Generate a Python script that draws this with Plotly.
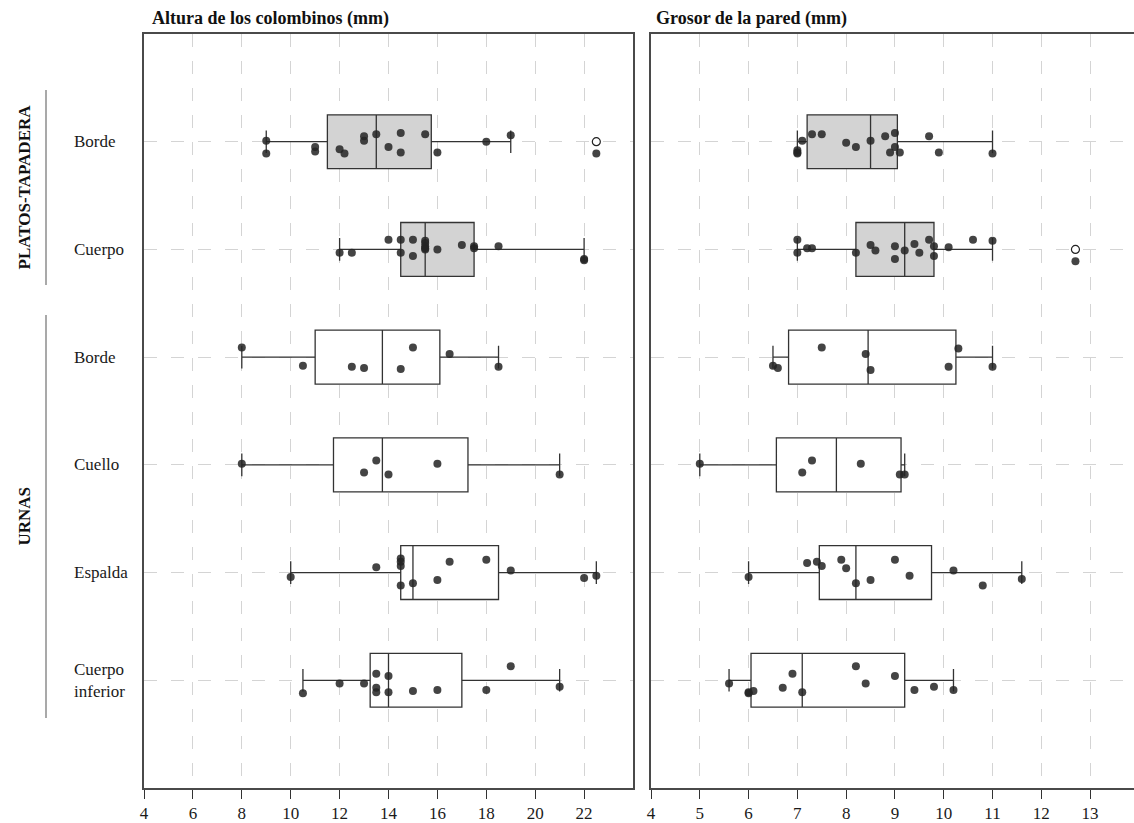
import plotly.graph_objects as go

# --- categories (top to bottom) -------------------------------------------
categories = ["Borde", "Cuerpo", "Borde", "Cuello", "Espalda", "Cuerpo<br>inferior"]
shaded_rows = [0, 1]          # PLATOS-TAPADERA rows get a grey fill
group_names = ["PLATOS-TAPADERA", "URNAS"]

# --- Altura de los colombinos (mm) ------------------------------------------
altura_values = [
    [9.0, 9.0, 11.0, 11.0, 12.0, 12.2, 13.0, 13.0, 13.5, 14.0, 14.5, 14.5, 15.5, 16.0, 18.0, 19.0, 22.5],
    [12.0, 12.5, 14.0, 14.5, 14.5, 15.0, 15.0, 15.5, 15.5, 15.5, 15.5, 15.5, 16.0, 17.0, 17.5, 17.5, 18.5, 22.0, 22.0],
    [8.0, 10.5, 12.5, 13.0, 14.5, 15.0, 16.5, 18.5],
    [8.0, 13.0, 13.5, 14.0, 16.0, 21.0],
    [10.0, 13.5, 14.5, 14.5, 14.5, 14.5, 15.0, 16.0, 16.5, 18.0, 19.0, 22.0, 22.5],
    [10.5, 12.0, 13.0, 13.5, 13.5, 13.5, 14.0, 14.0, 15.0, 16.0, 18.0, 19.0, 21.0],
]
altura_jitter = [
    [-0.01, 0.11, 0.05, 0.09, 0.07, 0.11, -0.05, -0.01, -0.07, 0.05, -0.08, 0.10, -0.07, 0.10, 0.00, -0.06, 0.11],
    [0.03, 0.03, -0.09, -0.09, 0.03, -0.09, 0.06, -0.08, -0.06, -0.03, -0.01, 0.00, 0.00, -0.04, -0.03, -0.01, -0.03, 0.09, 0.10],
    [-0.09, 0.08, 0.09, 0.10, 0.11, -0.09, -0.03, 0.09],
    [-0.01, 0.07, -0.04, 0.09, -0.01, 0.09],
    [0.04, -0.05, -0.13, -0.10, -0.06, 0.12, 0.10, 0.07, -0.10, -0.12, -0.02, 0.05, 0.03],
    [0.12, 0.03, 0.03, -0.06, 0.07, 0.11, -0.04, 0.11, 0.10, 0.09, 0.09, -0.13, 0.06],
]
altura_q1 = [11.5, 14.5, 11.0, 11.75, 14.5, 13.25]
altura_median = [13.5, 15.5, 13.75, 13.75, 15.0, 14.0]
altura_q3 = [15.75, 17.5, 16.1, 17.25, 18.5, 17.0]
altura_low = [9.0, 12.0, 8.0, 8.0, 10.0, 10.5]
altura_high = [19.0, 22.0, 18.5, 21.0, 22.5, 21.0]
altura_outliers = [[22.5], [], [], [], [], []]
altura_ticks = [4, 6, 8, 10, 12, 14, 16, 18, 20, 22]

# --- Grosor de la pared (mm) ------------------------------------------------
grosor_values = [
    [7.0, 7.0, 7.0, 7.1, 7.3, 7.5, 8.0, 8.2, 8.5, 8.8, 8.9, 9.0, 9.0, 9.1, 9.7, 9.9, 11.0],
    [7.0, 7.0, 7.2, 7.3, 8.2, 8.5, 8.6, 9.0, 9.0, 9.2, 9.4, 9.5, 9.7, 9.8, 9.8, 10.1, 10.6, 11.0, 12.7],
    [6.5, 6.6, 7.5, 8.4, 8.5, 10.1, 10.3, 11.0],
    [5.0, 7.1, 7.3, 8.3, 9.1, 9.2],
    [6.0, 7.2, 7.4, 7.5, 7.9, 8.0, 8.2, 8.5, 9.0, 9.3, 10.2, 10.8, 11.6],
    [5.6, 6.0, 6.0, 6.1, 6.7, 6.9, 7.1, 8.2, 8.4, 9.0, 9.4, 9.8, 10.2],
]
grosor_jitter = [
    [0.08, 0.10, 0.11, -0.01, -0.07, -0.07, 0.01, 0.05, -0.01, -0.05, 0.10, -0.08, 0.05, 0.10, -0.05, 0.10, 0.11],
    [-0.09, 0.03, -0.01, -0.01, 0.03, -0.04, 0.01, -0.03, 0.09, 0.01, -0.05, 0.03, -0.09, -0.03, 0.06, -0.02, -0.09, -0.08, 0.11],
    [0.08, 0.10, -0.09, -0.03, 0.12, 0.09, -0.08, 0.09],
    [-0.01, 0.07, -0.04, -0.01, 0.09, 0.09],
    [0.04, -0.09, -0.10, -0.06, -0.12, -0.04, 0.10, 0.07, -0.12, 0.03, -0.02, 0.12, 0.06],
    [0.03, 0.11, 0.12, 0.10, 0.07, -0.06, 0.11, -0.13, 0.03, -0.04, 0.09, 0.06, 0.09],
]
grosor_q1 = [7.2, 8.2, 6.82, 6.57, 7.45, 6.05]
grosor_median = [8.5, 9.2, 8.45, 7.8, 8.2, 7.1]
grosor_q3 = [9.05, 9.8, 10.25, 9.125, 9.75, 9.2]
grosor_low = [7.0, 7.0, 6.5, 5.0, 6.0, 5.6]
grosor_high = [11.0, 11.0, 11.0, 9.2, 11.6, 10.2]
grosor_outliers = [[], [12.7], [], [], [], []]
grosor_ticks = [4, 5, 6, 7, 8, 9, 10, 11, 12, 13]

# --- page geometry ----------------------------------------------------------
W, H = 1134, 823
SERIF = "Liberation Serif"
FRAME = "#4a4a4a"
GRID = "#d4d4d4"
POINT = "rgba(35,35,35,0.85)"


def px_x(p):
    return p / W


def px_y(p):
    return 1 - p / H


fig = go.Figure()

panels = [
    ("x", "y", altura_values, altura_jitter, altura_q1, altura_median, altura_q3,
     altura_low, altura_high, altura_outliers),
    ("x2", "y2", grosor_values, grosor_jitter, grosor_q1, grosor_median, grosor_q3,
     grosor_low, grosor_high, grosor_outliers),
]

for xa, ya, vals, jit, q1, med, q3, lo, hi, outl in panels:
    # boxes
    for i in range(len(categories)):
        fill = "#d3d3d3" if i in shaded_rows else "white"
        fig.add_trace(go.Box(
            y=[i], q1=[q1[i]], median=[med[i]], q3=[q3[i]],
            lowerfence=[lo[i]], upperfence=[hi[i]],
            orientation="h", width=0.5, whiskerwidth=0.42,
            fillcolor=fill, line=dict(color="#333333", width=1.3),
            boxpoints=False, xaxis=xa, yaxis=ya, showlegend=False,
            hoverinfo="skip",
        ))
    # outliers (open circles on the box centre line)
    ox, oy = [], []
    for i, row in enumerate(outl):
        for v in row:
            ox.append(v)
            oy.append(i)
    if ox:
        fig.add_trace(go.Scatter(
            x=ox, y=oy, mode="markers", xaxis=xa, yaxis=ya, showlegend=False,
            marker=dict(symbol="circle", size=8, color="white",
                        line=dict(color="#222222", width=1.2)),
            hoverinfo="skip",
        ))
    # jittered observations
    px_, py_ = [], []
    for i, row in enumerate(vals):
        for v, j in zip(row, jit[i]):
            px_.append(v)
            py_.append(i + j)
    fig.add_trace(go.Scatter(
        x=px_, y=py_, mode="markers", xaxis=xa, yaxis=ya, showlegend=False,
        marker=dict(size=8, color=POINT, line=dict(width=0)),
        hoverinfo="skip",
    ))

y_domain = [1 - 788 / H, 1 - 34 / H]
y_range = [len(categories), -1]

common_x = dict(
    showline=True, linecolor=FRAME, linewidth=1.5, mirror=True,
    ticks="outside", ticklen=9, tickcolor="#333333", tickwidth=1,
    showgrid=True, gridcolor=GRID, gridwidth=1.4, griddash="13px,14px",
    zeroline=False, tickfont=dict(family=SERIF, size=17, color="#1a1a1a"),
    fixedrange=True,
)
common_y = dict(
    range=y_range, domain=y_domain, tickvals=list(range(len(categories))),
    showticklabels=False, ticks="", showgrid=True, gridcolor=GRID,
    gridwidth=1.4, griddash="13px,14px", zeroline=False,
    showline=True, linecolor=FRAME, linewidth=1.5, fixedrange=True,
)

fig.update_layout(
    width=W, height=H,
    margin=dict(l=0, r=0, t=0, b=0, autoexpand=False),
    paper_bgcolor="white", plot_bgcolor="white",
    xaxis=dict(domain=[px_x(144), px_x(633)], range=[4, 24],
               tickvals=altura_ticks, anchor="y", **common_x),
    yaxis=dict(anchor="x", mirror=True, **common_y),
    xaxis2=dict(domain=[px_x(651), 1.0], range=[4, 13.9],
                tickvals=grosor_ticks, anchor="y2", **common_x),
    yaxis2=dict(anchor="x2", mirror=False, **common_y),
    showlegend=False,
)

# panel titles
fig.add_annotation(text="<b>Altura de los colombinos (mm)</b>", xref="paper", yref="paper",
                   x=px_x(150), y=px_y(18), xanchor="left", yanchor="middle",
                   showarrow=False, font=dict(family=SERIF, size=18, color="#111111"))
fig.add_annotation(text="<b>Grosor de la pared (mm)</b>", xref="paper", yref="paper",
                   x=px_x(654), y=px_y(18), xanchor="left", yanchor="middle",
                   showarrow=False, font=dict(family=SERIF, size=18, color="#111111"))

# row labels
for i, cat in enumerate(categories):
    fig.add_annotation(text=cat, xref="paper", yref="y", x=px_x(72), y=i,
                       xanchor="left", yanchor="middle", align="left",
                       showarrow=False,
                       font=dict(family=SERIF, size=17, color="#1a1a1a"))

# group brackets and labels
group_spans = [(90, 285), (315, 718)]
for name, (top, bottom) in zip(group_names, group_spans):
    fig.add_shape(type="line", xref="paper", yref="paper",
                  x0=px_x(46), x1=px_x(46), y0=px_y(top), y1=px_y(bottom),
                  line=dict(color="#8c8c8c", width=1.5))
    fig.add_annotation(text="<b>%s</b>" % name, xref="paper", yref="paper",
                       x=px_x(24), y=px_y((top + bottom) / 2), textangle=-90,
                       xanchor="center", yanchor="middle", showarrow=False,
                       font=dict(family=SERIF, size=17, color="#111111"))

fig.write_html("out.html")
